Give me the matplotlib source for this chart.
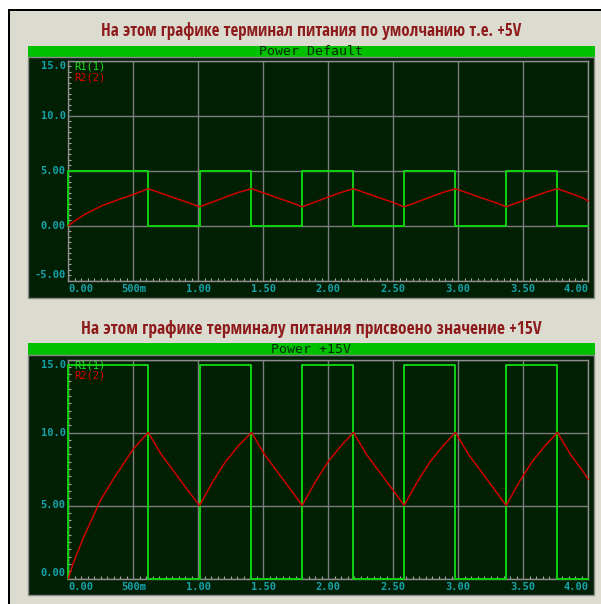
import matplotlib
matplotlib.use("Agg")
import matplotlib.pyplot as plt
from matplotlib.patches import Rectangle

W, H = 601, 604

# ---------------------------------------------------------------- data
time_ticks = [0.0, 0.5, 1.0, 1.5, 2.0, 2.5, 3.0, 3.5, 4.0]
time_labels = ["0.00", "500m", "1.00", "1.50", "2.00", "2.50", "3.00", "3.50", "4.00"]

# R1(1): timer output, step points (time, level)
r1_times = [0.0, 0.0, 0.615, 1.01, 1.41, 1.80, 2.195, 2.585, 2.98, 3.37, 3.765, 4.0]

# R2(2): capacitor voltage, time samples shared by both graphs after the first peak
r2_cycle_times = [0.715, 0.815, 0.915, 1.01,
                  1.11, 1.21, 1.31, 1.41,
                  1.51, 1.61, 1.71, 1.80,
                  1.90, 2.00, 2.10, 2.195,
                  2.295, 2.395, 2.495, 2.585,
                  2.685, 2.785, 2.885, 2.98,
                  3.08, 3.18, 3.28, 3.37,
                  3.47, 3.57, 3.67, 3.765,
                  3.865, 3.965, 4.0]

# Upper graph: default supply (+5V)
top_title = "На этом графике терминал питания по умолчанию т.е. +5V"
top_header = "Power Default"
top_yticks = [-5, 0, 5, 10, 15]
top_ylabels = ["-5.00", "0.00", "5.00", "10.0", "15.0"]
top_r1_levels = [0.0, 5.0, 0.0, 5.0, 0.0, 5.0, 0.0, 5.0, 0.0, 5.0, 0.0, 0.0]
top_r2_start_times = [0.0, 0.04, 0.13, 0.26, 0.385, 0.50, 0.615]
top_r2_start_values = [0.0, 0.35, 1.05, 1.82, 2.37, 2.83, 3.36]
top_r2_cycle_values = [2.95, 2.53, 2.13, 1.72,
                       2.15, 2.60, 3.03, 3.36,
                       2.95, 2.53, 2.13, 1.72,
                       2.15, 2.60, 3.03, 3.36,
                       2.95, 2.53, 2.13, 1.72,
                       2.15, 2.60, 3.03, 3.36,
                       2.95, 2.53, 2.13, 1.72,
                       2.15, 2.60, 3.03, 3.36,
                       2.95, 2.50, 2.25]

# Lower graph: supply set to +15V
bot_title = "На этом графике терминалу питания присвоено значение +15V"
bot_header = "Power +15V"
bot_yticks = [0, 5, 10, 15]
bot_ylabels = ["0.00", "5.00", "10.0", "15.0"]
bot_r1_levels = [0.0, 14.6, 0.0, 14.6, 0.0, 14.6, 0.0, 14.6, 0.0, 14.6, 0.0, 0.0]
bot_r2_start_times = [0.0, 0.038, 0.115, 0.18, 0.244, 0.346, 0.50, 0.615]
bot_r2_start_values = [0.0, 1.04, 2.77, 4.03, 5.30, 6.80, 8.87, 10.0]
bot_r2_cycle_values = [8.5, 7.3, 6.1, 5.0,
                       6.6, 8.0, 9.1, 10.0,
                       8.5, 7.3, 6.1, 5.0,
                       6.6, 8.0, 9.1, 10.0,
                       8.5, 7.3, 6.1, 5.0,
                       6.6, 8.0, 9.1, 10.0,
                       8.5, 7.3, 6.1, 5.0,
                       6.6, 8.0, 9.1, 10.0,
                       8.5, 7.3, 6.8]

# ---------------------------------------------------------------- style
PANEL_GRAY = "#dcdbd0"
SCREEN = "#011f02"
HEADER_GREEN = "#00c000"
GRID = "#7c7c7c"
FRAME = "#8e8e8e"
TICK_TEXT = "#14a3ad"
TRACE_GREEN = "#10d010"
TRACE_RED = "#d00000"
TITLE_RED = "#8e1b1b"
MONO = "DejaVu Sans Mono"
TITLE_FONT = ["Liberation Sans Narrow", "Open Sans Condensed", "Roboto", "DejaVu Sans"]

fig = plt.figure(figsize=(W / 100, H / 100), dpi=100)
fig.patch.set_facecolor("white")

bg = fig.add_axes([0, 0, 1, 1])
bg.set_xlim(0, W)
bg.set_ylim(H, 0)
bg.axis("off")
bg.add_patch(Rectangle((7.5, 8.5), W, H, facecolor="black", lw=0))
bg.add_patch(Rectangle((9.5, 10.5), W, H, facecolor=PANEL_GRAY, lw=0))

titles = []


def graph(title, title_y, title_width, header, header_top, header_bot, screen_bot,
          ax_top, ax_bot, ylim, yticks, ylabels,
          r1_levels, r2_times, r2_values):
    # window frame: title, green caption bar, dark screen
    t = bg.text(311, title_y, title, ha="center", va="center", fontsize=12,
                fontweight="bold", fontstretch="condensed", color=TITLE_RED,
                family=TITLE_FONT)
    titles.append((t, title_width))
    bg.add_patch(Rectangle((28, header_top), 567, header_bot - header_top,
                           facecolor=HEADER_GREEN, lw=0))
    bg.text(311, (header_top + header_bot) / 2 + 0.5, header, ha="center",
            va="center", fontsize=9.5, color="#042a04", family=MONO)
    bg.add_patch(Rectangle((28, header_bot), 566, screen_bot - header_bot,
                           facecolor=SCREEN, edgecolor="#8a8a8a", lw=1))

    x0, x1 = 68.3, 588.0
    ax = fig.add_axes([x0 / W, 1 - ax_bot / H, (x1 - x0) / W, (ax_bot - ax_top) / H])
    ax.set_facecolor("none")
    ax.set_xlim(0, 4)
    ax.set_ylim(*ylim)
    for s in ax.spines.values():
        s.set_color(FRAME)
        s.set_linewidth(1)

    ax.set_xticks(time_ticks)
    ax.set_xticklabels(time_labels)
    ax.set_yticks(yticks)
    ax.set_yticklabels(ylabels)
    ax.set_xticks([i * 0.05 for i in range(81)], minor=True)
    ax.set_yticks([ylim[0] + i * 0.5 for i in range(int((ylim[1] - ylim[0]) / 0.5) + 1)],
                  minor=True)
    ax.tick_params(which="major", length=0, labelsize=7.5, labelcolor=TICK_TEXT)
    ax.tick_params(axis="x", which="major", pad=2.5)
    ax.tick_params(axis="y", which="major", pad=2)
    ax.tick_params(which="minor", direction="in", length=2.5, width=0.8,
                   color="#a8a8a8")
    for lab in ax.get_xticklabels() + ax.get_yticklabels():
        lab.set_family(MONO)
        lab.set_fontweight("bold")
    xl = ax.get_xticklabels()
    xl[0].set_ha("left")
    xl[-1].set_ha("right")
    for lab in ax.get_yticklabels():
        lab.set_va("center")
    yl = ax.get_yticklabels()
    yl[0].set_va("bottom")
    yl[-1].set_va("top")

    ax.grid(True, which="major", color=GRID, lw=1)
    ax.set_axisbelow(True)

    ax.plot(r1_times, r1_levels, drawstyle="steps-post", color=TRACE_GREEN,
            lw=1.4, clip_on=False, zorder=3)
    ax.plot(r2_times, r2_values, color=TRACE_RED, lw=1.1, clip_on=False, zorder=4)

    ax.annotate("R1(1)", xy=(0, 1), xycoords="axes fraction", xytext=(6, -5.5),
                textcoords="offset pixels", ha="left", va="center",
                fontsize=7.5, color="#20e020", family=MONO, zorder=5)
    ax.annotate("R2(2)", xy=(0, 1), xycoords="axes fraction", xytext=(6, -16.5),
                textcoords="offset pixels", ha="left", va="center",
                fontsize=7.5, color="#e00000", family=MONO, zorder=5)
    return ax


graph(top_title, 31, 421, top_header, 45.5, 57, 298, 61, 280.5, (-5, 15),
      top_yticks, top_ylabels, top_r1_levels,
      top_r2_start_times + r2_cycle_times, top_r2_start_values + top_r2_cycle_values)

graph(bot_title, 329, 456, bot_header, 343, 355, 595, 359.5, 578.5, (0, 15),
      bot_yticks, bot_ylabels, bot_r1_levels,
      bot_r2_start_times + r2_cycle_times, bot_r2_start_values + bot_r2_cycle_values)

# size the captions so they span the same width as the window text
renderer = fig.canvas.get_renderer()
for t, width in titles:
    w = t.get_window_extent(renderer=renderer).width
    t.set_fontsize(t.get_fontsize() * width / w)

fig.savefig("out.png", dpi=100, facecolor=fig.get_facecolor())
